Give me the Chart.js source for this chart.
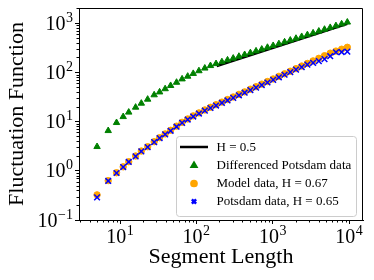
<!DOCTYPE html>
<html><head><meta charset="utf-8">
<style>html,body{margin:0;padding:0;background:#fff}#wrap{width:374px;height:280px}</style>
<script src="https://cdn.jsdelivr.net/npm/chart.js@4.4.0/dist/chart.umd.min.js"></script>
</head><body><div id="wrap"><canvas id="c" width="374" height="280"></canvas></div>
<script>
const segmentLengths = [5,7,9,11,13,16,19,23,28,33,39,46,55,65,77,91,108,129,153,181,216,256,304,361,429,510,605,719,854,1014,1205,1431,1700,2019,2398,2848,3383,4019,4773,5670,6735,8000,9500];
const differencedPotsdam = [3.08,6.5,9.46,12.5,15.4,19.4,23.4,28.2,34.6,39.6,46.0,53.5,62.2,72.8,82.6,94.0,106.7,120.8,135.8,148.9,162.6,176.7,192.2,209.3,227.6,247.9,269.4,293.1,318.7,346.9,377.6,411.1,446.7,486.3,528.9,575.4,625.2,680.8,741.3,806.8,877.0,955.0,1038];
const modelData = [0.324,0.631,0.912,1.202,1.528,1.995,2.512,3.076,3.89,4.70,5.60,6.64,8.05,9.62,11.27,13.03,14.96,17.18,19.45,21.93,24.77,27.92,31.48,35.56,40.0,45.3,50.9,57.5,64.9,73.1,82.6,93.1,105.0,118.6,133.7,151.0,170.2,191.9,216.8,244.3,269.2,293.8,321.4];
const potsdamData = [0.288,0.62,0.90,1.19,1.51,1.96,2.47,3.02,3.82,4.60,5.48,6.48,7.85,9.38,10.95,12.6,14.5,16.6,18.8,21.1,23.8,26.8,30.2,34.1,38.4,43.4,48.8,55.0,62.0,70.0,79.0,89.0,100.5,113,127,143,155,168,185,212,255,257,262];
const refLineX = [185, 9500];
const refLineY = [134, 960];
const seriesLabels = ['H = 0.5','Differenced Potsdam data','Model data, H = 0.67','Potsdam data, H = 0.65'];
const tickBase = '10';
const xTickValues = [10,100,1000,10000];
const xTickExponents = ['1','2','3','4'];
const yTickValues = [0.1,1,10,100,1000];
const yTickExponents = ['\u22121','0','1','2','3'];
const xTitle = 'Segment Length';
const yTitle = 'Fluctuation Function';

const SERIF = "'Liberation Serif','Times New Roman',serif";
const toPts = (xs, ys) => xs.map((v,i)=>({x:v,y:ys[i]}));

function drawPow(ctx, exp, x, yBase, align){
  ctx.font = '20px '+SERIF; const wb = ctx.measureText(tickBase).width;
  ctx.font = '14px '+SERIF; const we = ctx.measureText(exp).width;
  const tot = wb + we + 0.5;
  const start = align==='right' ? x - tot : x - tot/2;
  ctx.textAlign='left'; ctx.textBaseline='alphabetic';
  ctx.font = '20px '+SERIF; ctx.fillText(tickBase, start, yBase);
  ctx.font = '14px '+SERIF; ctx.fillText(exp, start + wb + 0.5, yBase - 8);
}

const decoPlugin = {
  id:'deco',
  afterDraw(chart){
    const {ctx, chartArea:a, scales:{x,y}} = chart;
    ctx.save();
    ctx.strokeStyle='#000'; ctx.lineWidth=1;
    ctx.beginPath();
    const t = Math.round(a.top)+0.5, r = Math.round(a.right)-0.5;
    ctx.moveTo(Math.round(a.left), t); ctx.lineTo(r, t); ctx.lineTo(r, Math.round(a.bottom));
    ctx.stroke();
    ctx.beginPath();
    for(let d=-2; d<=5; d++){
      for(let m=2;m<=9;m++){
        const v = m*Math.pow(10,d);
        if(v>x.min && v<x.max){
          const px = Math.round(x.getPixelForValue(v))+0.5;
          ctx.moveTo(px, Math.round(a.bottom)); ctx.lineTo(px, Math.round(a.bottom)+2.5);
        }
        if(v>y.min && v<y.max){
          const py = Math.round(y.getPixelForValue(v))+0.5;
          ctx.moveTo(Math.round(a.left), py); ctx.lineTo(Math.round(a.left)-2.5, py);
        }
      }
    }
    ctx.stroke();
    // tick labels
    ctx.fillStyle='#000';
    xTickValues.forEach((v,i)=>{ drawPow(ctx, xTickExponents[i], x.getPixelForValue(v), a.bottom+23, 'center'); });
    yTickValues.forEach((v,i)=>{ drawPow(ctx, yTickExponents[i], 73, y.getPixelForValue(v)+6.5, 'right'); });
    // legend
    const bx=176.5, by=136.5, bw=180, bh=80, rad=3;
    ctx.beginPath();
    ctx.moveTo(bx+rad,by); ctx.lineTo(bx+bw-rad,by); ctx.arcTo(bx+bw,by,bx+bw,by+rad,rad);
    ctx.lineTo(bx+bw,by+bh-rad); ctx.arcTo(bx+bw,by+bh,bx+bw-rad,by+bh,rad);
    ctx.lineTo(bx+rad,by+bh); ctx.arcTo(bx,by+bh,bx,by+bh-rad,rad);
    ctx.lineTo(bx,by+rad); ctx.arcTo(bx,by,bx+rad,by,rad); ctx.closePath();
    ctx.fillStyle='rgba(255,255,255,0.8)'; ctx.fill();
    ctx.strokeStyle='#cccccc'; ctx.lineWidth=1; ctx.stroke();
    const rows=[147,165.5,183.5,201.5];
    chart.data.datasets.forEach((ds,i)=>{
      const yy=rows[i];
      if(ds.showLine){
        ctx.beginPath(); ctx.strokeStyle=ds.borderColor; ctx.lineWidth=ds.borderWidth;
        ctx.moveTo(180,yy); ctx.lineTo(208,yy); ctx.stroke();
      } else {
        ctx.fillStyle=ds.backgroundColor; ctx.strokeStyle=ds.borderColor;
        Chart.helpers.drawPoint(ctx,{pointStyle:ds.pointStyle,radius:ds.legendRadius,rotation:0,borderWidth:ds.borderWidth},194,yy);
      }
      ctx.fillStyle='#000';
      ctx.font = '13px '+SERIF; ctx.textBaseline='middle'; ctx.textAlign='left';
      ctx.fillText(ds.label,216.5,yy+0.5);
    });
    ctx.restore();
  }
};

new Chart(document.getElementById('c'),{
  type:'scatter',
  data:{datasets:[
    {label:seriesLabels[0], data:toPts(refLineX,refLineY), showLine:true, borderColor:'#000', backgroundColor:'#000', borderWidth:2.5, pointRadius:0, order:3},
    {label:seriesLabels[1], data:toPts(segmentLengths,differencedPotsdam), pointStyle:'triangle', pointRadius:3.7, legendRadius:2.6, backgroundColor:'#008000', borderColor:'#008000', borderWidth:1, order:2},
    {label:seriesLabels[2], data:toPts(segmentLengths,modelData), pointStyle:'circle', pointRadius:3.2, legendRadius:2.6, backgroundColor:'#FFA500', borderColor:'#FFA500', borderWidth:1, order:1},
    {label:seriesLabels[3], data:toPts(segmentLengths,potsdamData), pointStyle:'crossRot', pointRadius:4, legendRadius:3, backgroundColor:'#0000FF', borderColor:'#0000FF', borderWidth:1.5, order:0}
  ]},
  options:{
    responsive:false, animation:false, devicePixelRatio:1,
    layout:{padding:{top:8,right:11,left:0,bottom:0}},
    plugins:{legend:{display:false}, tooltip:{enabled:false}},
    scales:{
      x:{type:'logarithmic', min:2.9, max:15240,
        afterBuildTicks:s=>{s.ticks=xTickValues.map(v=>({value:v}));},
        afterFit:s=>{s.height=60;},
        ticks:{display:false},
        grid:{drawOnChartArea:false, drawTicks:true, tickLength:4, color:'#000'},
        border:{display:true,color:'#000',width:1},
        title:{display:true,text:xTitle,color:'#000',font:{family:SERIF,size:22},padding:{top:0,bottom:10}}
      },
      y:{type:'logarithmic', min:0.1, max:2018,
        afterBuildTicks:s=>{s.ticks=yTickValues.map(v=>({value:v}));},
        afterFit:s=>{s.width=79;},
        ticks:{display:false},
        grid:{drawOnChartArea:false, drawTicks:true, tickLength:4, color:'#000'},
        border:{display:true,color:'#000',width:1},
        title:{display:true,text:yTitle,color:'#000',font:{family:SERIF,size:22},padding:{top:4,bottom:0}}
      }
    }
  },
  plugins:[decoPlugin]
});
</script></body></html>
